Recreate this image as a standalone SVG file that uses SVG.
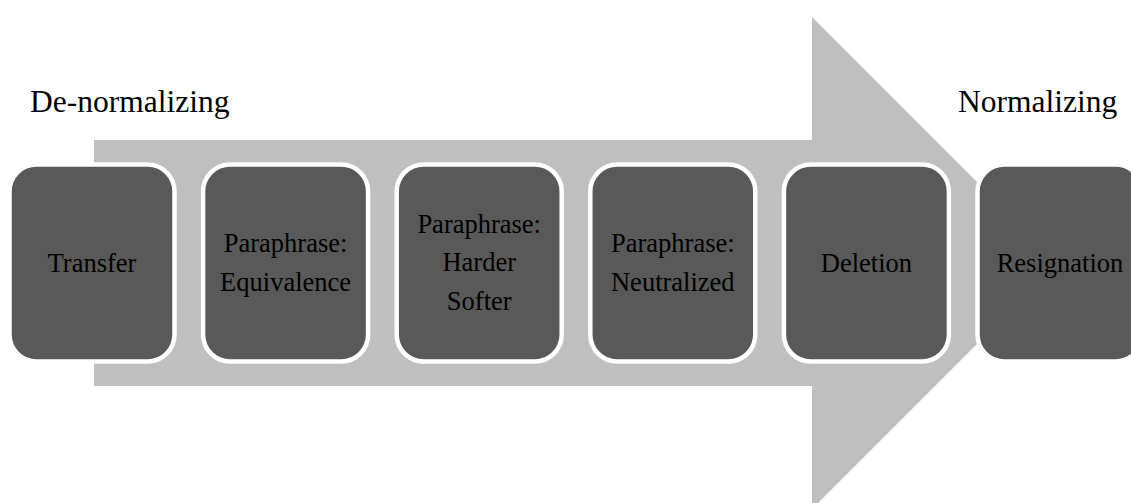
<svg xmlns="http://www.w3.org/2000/svg" width="1131" height="503" viewBox="0 0 1131 503">
<style>
.box{fill:#595959;stroke:#ffffff;stroke-width:4.5}
text{font-family:'Liberation Serif','Times New Roman',Tinos,'DejaVu Serif',serif;fill:#000000}
.lbl{font-size:26.5px;text-anchor:middle}
.side{font-size:31.5px}
</style>
<rect width="1131" height="503" fill="#ffffff"/>
<g id="arrow">
<polygon points="94,140 812,140 812,17 1058,263 812,509 812,386 94,386" fill="#bfbfbf"/>
</g>
<text class="side" x="30" y="111.7" font-family="Liberation Serif, Times New Roman, DejaVu Serif, serif">De-normalizing</text>
<text class="side" x="958" y="111.7" font-family="Liberation Serif, Times New Roman, DejaVu Serif, serif">Normalizing</text>
<g id="connectors"></g>
<g id="n1"><rect class="box" x="9.5" y="164.5" width="165" height="197" rx="27"/><text class="lbl" x="92" y="271.7">Transfer</text></g>
<g id="n2"><rect class="box" x="203.1" y="164.5" width="165" height="197" rx="27"/><text class="lbl" x="285.6" y="251.7">Paraphrase:</text><text class="lbl" x="285.6" y="290.5">Equivalence</text></g>
<g id="n3"><rect class="box" x="396.7" y="164.5" width="165" height="197" rx="27"/><text class="lbl" x="479.2" y="232.7">Paraphrase:</text><text class="lbl" x="479.2" y="271.3">Harder</text><text class="lbl" x="479.2" y="310">Softer</text></g>
<g id="n4"><rect class="box" x="590.3" y="164.5" width="165" height="197" rx="27"/><text class="lbl" x="672.8" y="251.7">Paraphrase:</text><text class="lbl" x="672.8" y="290.5">Neutralized</text></g>
<g id="n5"><rect class="box" x="783.9" y="164.5" width="165" height="197" rx="27"/><text class="lbl" x="866.4" y="271.7">Deletion</text></g>
<g id="n6"><rect class="box" x="977.5" y="164.5" width="165" height="197" rx="27"/><text class="lbl" x="1060" y="271.7">Resignation</text></g>
</svg>
